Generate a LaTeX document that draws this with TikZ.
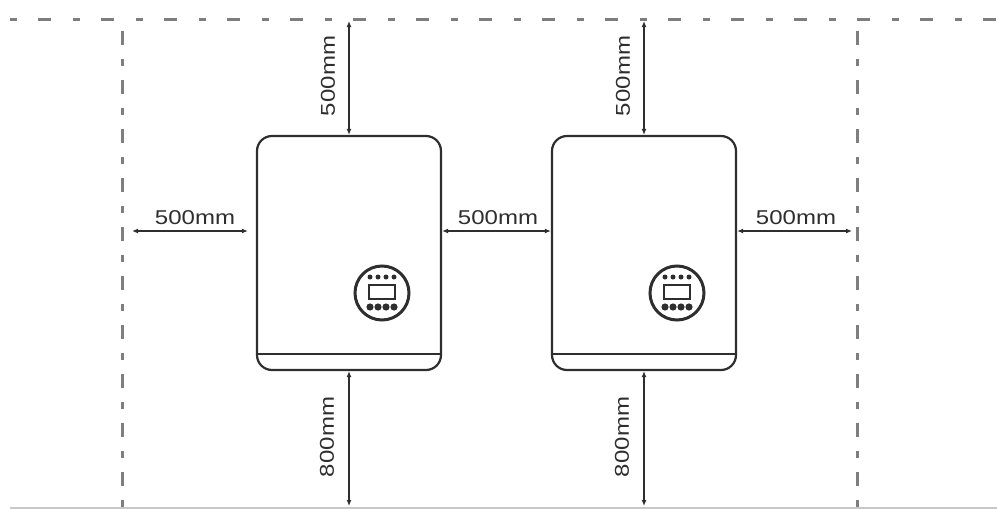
\documentclass[tikz,border=0pt]{standalone}
\usepackage{fontspec}
\setmainfont{Liberation Sans}
\newfontfamily\labfont[FakeStretch=1.2]{Liberation Sans}
\usetikzlibrary{arrows.meta}
\definecolor{ink}{HTML}{2E2E2E}
\definecolor{dashgray}{HTML}{7E7E7E}
\definecolor{floorgray}{HTML}{C8C8C8}
\begin{document}
\begin{tikzpicture}[x=1pt,y=-1pt,
  inverter/.style={draw=ink, line width=2.2pt, rounded corners=15pt, minimum width=184pt, minimum height=234pt, inner sep=0pt},
  dim/.style={draw=ink, line width=1.2pt, {Latex[length=6pt,width=5pt]}-{Latex[length=6pt,width=5pt]}},
  lab/.style={font=\labfont\fontsize{20}{20}\selectfont, text=ink, inner sep=0pt},
  wallh/.style={draw=dashgray, line width=3pt, dash pattern=on 7pt off 21pt on 13pt off 22pt},
  wallv/.style={draw=dashgray, line width=3pt, dash pattern=on 14pt off 14pt on 7pt off 14pt},
  display/.pic={
    \draw[ink, line width=3pt] (0,0) circle[radius=27pt];
    \draw[ink, line width=2pt] (-13,-8) rectangle (13,6);
    \foreach \dx in {-12,-4,4,12} {
      \fill[ink] (\dx,-16) circle[radius=2.5pt];
      \fill[ink] (\dx,14) circle[radius=3.6pt];
    }
  }
]
\useasboundingbox (0,0) rectangle (997,509);
% walls
\coordinate (wh1) at (10,19);
\coordinate (wh2) at (997,19);
\draw[wallh] (wh1) -- (wh2);
\coordinate (wl1) at (122,31);
\coordinate (wl2) at (122,509);
\draw[wallv] (wl1) -- (wl2);
\coordinate (wr1) at (857,31);
\coordinate (wr2) at (857,509);
\draw[wallv] (wr1) -- (wr2);
\coordinate (fl1) at (10,508);
\coordinate (fl2) at (997,508);
\draw[floorgray, line width=1.5pt] (fl1) -- (fl2);
% inverters
\node[inverter] (inv1) at (349,253) {};
\node[inverter] (inv2) at (644,253) {};
\draw[ink, line width=2.2pt] ([yshift=17pt]inv1.south west) -- ([yshift=17pt]inv1.south east);
\draw[ink, line width=2.2pt] ([yshift=17pt]inv2.south west) -- ([yshift=17pt]inv2.south east);
\pic at ([xshift=33pt,yshift=-40pt]inv1.center) {display};
\pic at ([xshift=33pt,yshift=-40pt]inv2.center) {display};
% vertical dimensions
\coordinate (t1) at (349,21);
\coordinate (b1) at (349,506);
\coordinate (t2) at (644,21);
\coordinate (b2) at (644,506);
\draw[dim] (t1) -- (inv1.north);
\draw[dim] (inv1.south) -- (b1);
\draw[dim] (t2) -- (inv2.north);
\draw[dim] (inv2.south) -- (b2);
\node[lab, rotate=90] (lt1) at (328,76) {500mm};
\node[lab, rotate=90] (lb1) at (327,437) {800mm};
\node[lab, rotate=90] (lt2) at (623,76) {500mm};
\node[lab, rotate=90] (lb2) at (622,437) {800mm};
% horizontal dimensions
\coordinate (l1) at (132,231);
\coordinate (r1) at (852,231);
\draw[dim, shorten >=8pt] (l1) -- (l1 -| inv1.west);
\draw[dim] (l1 -| inv1.east) -- (l1 -| inv2.west);
\draw[dim] (l1 -| inv2.east) -- (r1);
\node[lab] (ll) at (195,218) {500mm};
\node[lab] (lm) at (498,218) {500mm};
\node[lab] (lr) at (796,218) {500mm};
\end{tikzpicture}
\end{document}
